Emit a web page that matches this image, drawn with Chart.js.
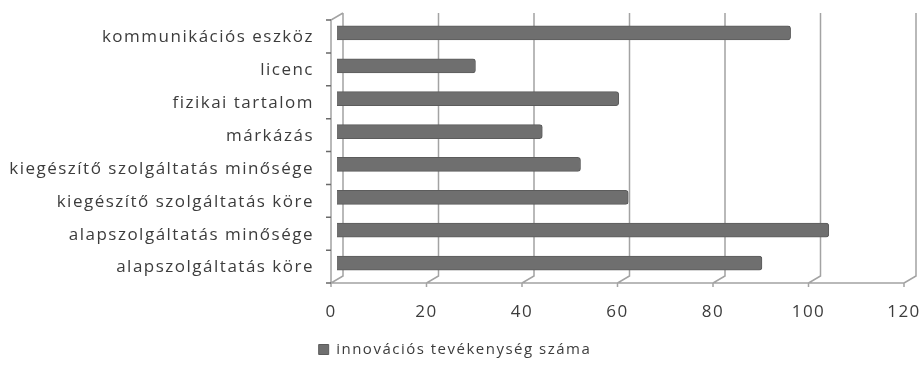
<!DOCTYPE html>
<html>
<head>
<meta charset="utf-8">
<script src="https://cdn.jsdelivr.net/npm/chart.js@4/dist/chart.umd.min.js"></script>
<style>
  html, body { margin: 0; padding: 0; background: #fff; }
  #wrap { width: 922px; height: 375px; }
</style>
</head>
<body>
<div id="wrap"><canvas id="c" width="922" height="375"></canvas></div>
<script>
// Categories listed top to bottom
const categories = [
  'kommunikációs eszköz',
  'licenc',
  'fizikai tartalom',
  'márkázás',
  'kiegészítő szolgáltatás minősége',
  'kiegészítő szolgáltatás köre',
  'alapszolgáltatás minősége',
  'alapszolgáltatás köre'
];
const innovationCounts = [95, 29, 59, 43, 51, 61, 103, 89];
const valueTicks = [0, 20, 40, 60, 80, 100, 120];
const seriesName = 'innovációs tevékenység száma';

const TEXT = '#3c3c3c';
const FONT = "'Open Sans', 'DejaVu Sans', sans-serif";
const SPACING = '1.5px';

// Slightly tracked-out text everywhere on the canvas
const tracking = {
  id: 'tracking',
  beforeInit(chart) { chart.ctx.letterSpacing = SPACING; },
  beforeUpdate(chart) { chart.ctx.letterSpacing = SPACING; },
  beforeDraw(chart) { chart.ctx.letterSpacing = SPACING; }
};

// Draws the pseudo-3D walls: back wall verticals, floor diagonals,
// the front floor edge, the side wall and the small axis ticks.
const depthFrame = {
  id: 'depthFrame',
  beforeDatasetsDraw(chart, args, opts) {
    const { ctx, chartArea: a, scales: { x } } = chart;
    const dx = opts.dx, dy = opts.dy;
    const frontFloor = a.bottom + dy, backFloor = a.bottom - dy;
    const frontTop = a.top + dy, backTop = a.top - dy;
    const x0 = x.getPixelForValue(valueTicks[0]) - dx;
    const x1 = x.getPixelForValue(valueTicks[valueTicks.length - 1]) - dx;
    ctx.save();
    ctx.strokeStyle = opts.color;
    ctx.lineWidth = opts.width;
    ctx.beginPath();
    valueTicks.forEach(v => {
      const m = x.getPixelForValue(v);
      ctx.moveTo(m + dx, backTop);
      ctx.lineTo(m + dx, backFloor);
      ctx.lineTo(m - dx, frontFloor);
      ctx.lineTo(m - dx, frontFloor + 4);
    });
    ctx.moveTo(x0, frontFloor);
    ctx.lineTo(x1, frontFloor);
    ctx.moveTo(x0, frontFloor);
    ctx.lineTo(x0, frontTop);
    ctx.lineTo(x0 + 2 * dx, backTop);
    ctx.stroke();
    // category boundary ticks on the side wall
    ctx.strokeStyle = opts.tickColor;
    ctx.beginPath();
    const n = categories.length;
    for (let i = 0; i <= n; i++) {
      const yb = a.top + i * (a.height / n) + dy;
      ctx.moveTo(x0 - 5, yb);
      ctx.lineTo(x0, yb);
    }
    ctx.stroke();
    ctx.restore();
  }
};

new Chart(document.getElementById('c'), {
  type: 'bar',
  data: {
    labels: categories,
    datasets: [{
      label: seriesName,
      data: innovationCounts,
      backgroundColor: '#6f6f6f',
      borderColor: '#5c5c5c',
      borderWidth: 1,
      borderSkipped: 'start',
      borderRadius: 3,
      barThickness: 14
    }]
  },
  options: {
    indexAxis: 'y',
    responsive: false,
    animation: false,
    layout: { padding: { left: 0, right: 12, top: 16.5, bottom: 8 } },
    scales: {
      x: {
        min: 0,
        max: 120,
        afterBuildTicks(scale) { scale.ticks = valueTicks.map(v => ({ value: v })); },
        afterFit(scale) {
          scale.height = 52.5;
          scale.paddingLeft = 0; scale.paddingRight = 0;
          scale.paddingTop = 0; scale.paddingBottom = 0;
        },
        grid: { display: false },
        border: { display: false },
        ticks: {
          color: TEXT,
          font: { family: FONT, size: 17 },
          padding: 14,
          labelOffset: -6,
          maxRotation: 0
        }
      },
      y: {
        afterFit(scale) {
          scale.width = 337;
          scale.paddingLeft = 0; scale.paddingRight = 0;
          scale.paddingTop = 0; scale.paddingBottom = 0;
        },
        grid: { display: false },
        border: { display: false },
        ticks: {
          color: TEXT,
          font: { family: FONT, size: 17 },
          padding: 15,
          labelOffset: 4.5
        }
      }
    },
    plugins: {
      legend: {
        position: 'bottom',
        labels: {
          color: TEXT,
          font: { family: FONT, size: 15 },
          boxWidth: 10,
          boxHeight: 10,
          padding: 10
        }
      },
      tooltip: { enabled: false },
      depthFrame: { dx: 6, dy: 3.5, color: '#a3a3a3', width: 1.5, tickColor: '#6a6a6a' }
    }
  },
  plugins: [tracking, depthFrame]
});
</script>
</body>
</html>
